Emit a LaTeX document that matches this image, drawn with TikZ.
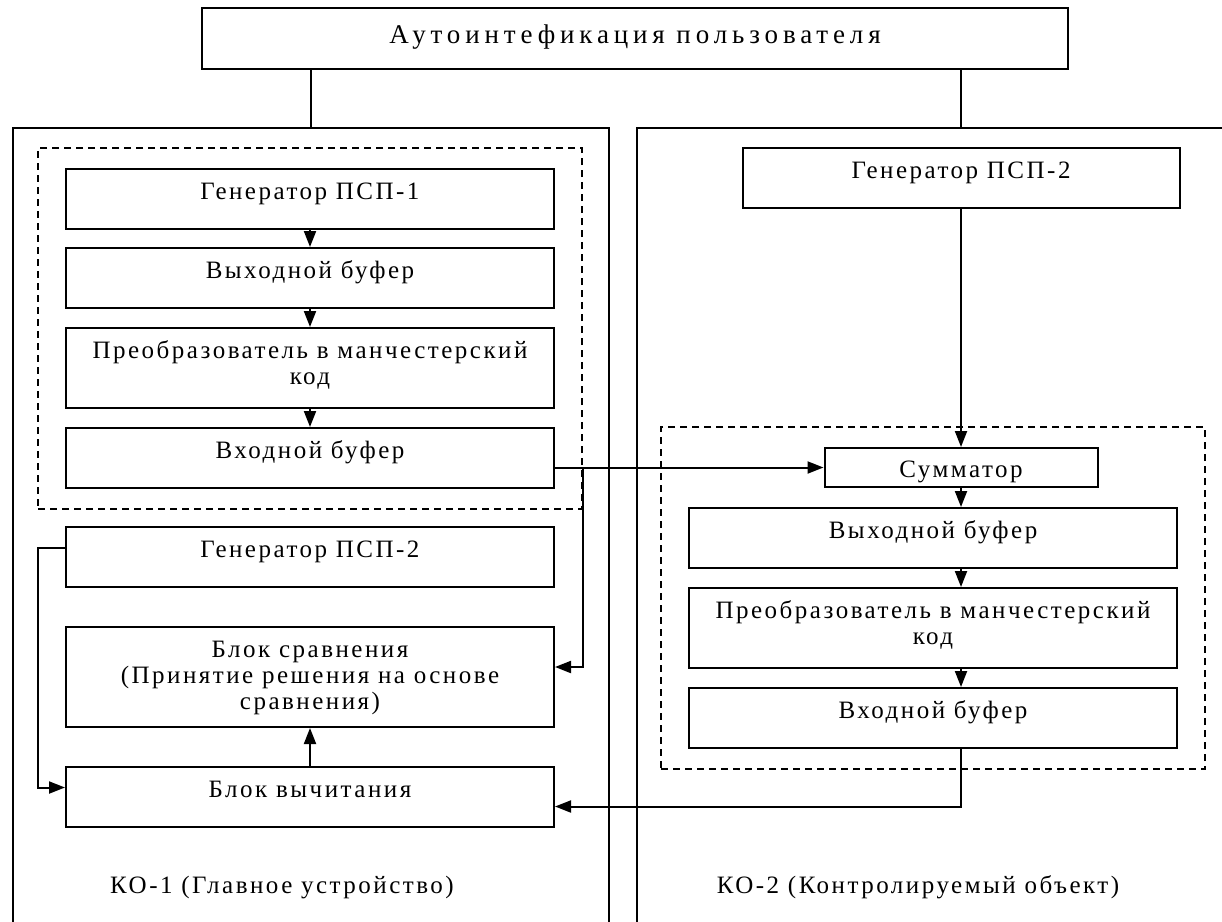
\documentclass[tikz,border=0pt]{standalone}
\usepackage{fontspec}
\setmainfont{Liberation Serif}[LetterSpace=10]
\usetikzlibrary{arrows.meta,fit}
\tikzset{blk/.style={draw,line width=2pt,inner xsep=2pt,inner ysep=0pt,align=center,
    anchor=north,minimum width=488pt,text height=30pt,text depth=#1,
    font=\fontsize{25}{26}\selectfont},
  blk/.default=30pt,
  frame/.style={draw,line width=2pt,anchor=north west,inner sep=0pt},
  grp/.style={draw,line width=1.6pt,dash pattern=on 7pt off 5pt,inner xsep=27pt,inner ysep=20pt},
  lbl/.style={anchor=base,font=\fontsize{25}{26}\selectfont}
}

\begin{document}
\begin{tikzpicture}[x=1pt,y=-1pt]
  \useasboundingbox (0,0) rectangle (1222,921);
  \clip (0,0) rectangle (1222,921);
  \node[blk,minimum width=866pt,text height=35pt,text depth=26pt,
    font=\fontsize{27}{30}\selectfont\addfontfeature{LetterSpace=18}] (auth) at (635,7) {Аутоинтефикация пользователя};
  \node[frame,minimum width=596pt,minimum height=850pt] (ko1) at (12,127) {};
  \node[frame,minimum width=648pt,minimum height=850pt] (ko2) at (636,127) {};
  % KO-1
  \node[blk] (gen1) at (310,168) {Генератор ПСП-1};
  \node[blk] (obuf1) at (310,247) {Выходной буфер};
  \node[blk=24pt,text height=56pt] (conv1) at (310,327) {Преобразователь в манчестерский\\код};
  \node[blk] (ibuf1) at (310,427) {Входной буфер};
  \node[blk] (gen2a) at (310,526) {Генератор ПСП-2};
  \node[blk=18pt,text height=82pt] (cmp) at (310,626) {Блок сравнения\\(Принятие решения на основе\\сравнения)};
  \node[blk] (sub) at (310,766) {Блок вычитания};
  \node[lbl] (lab1) at (282,893) {КО-1 (Главное устройство)};
  % KO-2
  \node[blk,minimum width=437pt] (gen2b) at (961,147) {Генератор ПСП-2};
  \node[blk=10pt,minimum width=273pt,text height=29pt] (sum) at (961,447) {Сумматор};
  \node[blk] (obuf2) at (933,507) {Выходной буфер};
  \node[blk=24pt,text height=56pt] (conv2) at (933,587) {Преобразователь в манчестерский\\код};
  \node[blk] (ibuf2) at (933,687) {Входной буфер};
  \node[lbl] (lab2) at (918,893) {КО-2 (Контролируемый объект)};
  \node[grp,fit=(gen1)(ibuf1)] (grp1) {};
  \node[grp,fit=(sum)(obuf2)(ibuf2)] (grp2) {};
  \begin{scope}[>={Triangle[length=16pt,width=12pt]},line width=2pt]
    \draw (auth.south -| ko1.north) -- (ko1.north);
    \draw (auth.south -| ko2.north) -- (ko2.north);
    \path [->] (gen1) edge (obuf1);
    \path [->] (obuf1) edge (conv1);
    \path [->] (conv1) edge (ibuf1);
    \path [->] (sub) edge (cmp);
    \path [->] (gen2b) edge (sum);
    \path [->] (sum.south) edge (sum.south |- obuf2.north);
    \path [->] (obuf2.south -| sum) edge (conv2.north -| sum);
    \path [->] (conv2.south -| sum) edge (ibuf2.north -| sum);
    \draw [->] (ibuf1.east |- sum.west) -- (sum.west);
    \draw [->] (grp1.east |- sum.west) |- ([yshift=10pt]cmp.east);
    \draw [->] (ibuf2.south -| sum) |- ([yshift=-9.5pt]sub.east);
    \draw [->] ([yshift=9pt]gen2a.west) -- ++(-27,0) |- ([yshift=9.5pt]sub.west);
  \end{scope}
\end{tikzpicture}
\end{document}
